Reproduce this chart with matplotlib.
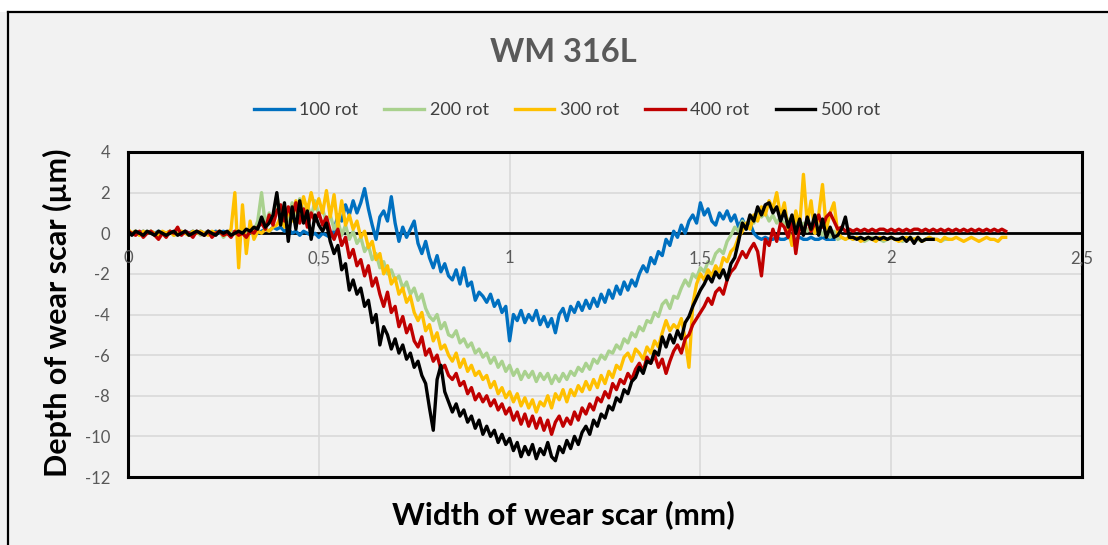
import numpy as np
import matplotlib
matplotlib.use("Agg")
import matplotlib.pyplot as plt
from matplotlib.lines import Line2D
from matplotlib.patches import Rectangle
import matplotlib.transforms as mtransforms

# Profile sampling step along the scar width (mm)
STEP = 0.01

# Depth profiles (µm), one value per STEP starting at 0 mm
depth_100 = [
    0.1, 0.0, 0.1, 0.0, 0.1, 0.0, 0.1, 0.0, 0.1, 0.0,
    0.0, 0.1, 0.0, 0.1, 0.0, 0.1, 0.0, 0.1, 0.0, 0.1,
    0.0, 0.1, 0.0, 0.1, 0.0, 0.1, 0.0, 0.1, 0.0, 0.1,
    0.0, 0.1, 0.0, 0.1, 0.0, 0.1, 0.2, 0.1, 0.3, 0.2,
    0.3, 0.1, 0.2, 0.0, 0.1, -0.1, 0.1, 0.0, -0.1, 0.0,
    -0.2, 0.0, -0.1, -0.2, 0.1, 0.9, 0.6, 1.4, 0.9, 1.6,
    1.0, 1.5, 2.2, 1.2, 0.4, -0.3, 0.8, 1.1, 0.6, 1.8,
    0.5, -0.4, 0.3, -0.2, 0.2, 0.6, -0.5, -1.0, -0.4, -1.2,
    -1.7, -1.1, -1.9, -1.5, -2.1, -2.3, -1.8, -2.5, -1.7, -2.6,
    -2.4, -3.3, -2.9, -3.1, -3.4, -3.0, -3.6, -3.3, -3.9, -3.6,
    -5.3, -4.0, -4.3, -3.8, -4.4, -4.0, -4.3, -3.8, -4.5, -4.1,
    -4.6, -4.2, -4.9, -4.0, -3.7, -4.3, -3.6, -3.9, -3.4, -3.8,
    -3.3, -3.7, -3.2, -3.6, -3.0, -3.4, -2.8, -3.2, -2.6, -3.0,
    -2.4, -2.8, -2.3, -2.6, -2.0, -1.6, -1.9, -1.2, -1.5, -0.9,
    -1.1, -0.3, -0.6, 0.1, -0.2, 0.4, 0.0, 0.6, 0.9, 0.5,
    1.5, 0.9, 1.2, 0.6, 0.4, 1.0, 0.7, 1.1, 0.6, 0.9,
    0.3, 0.7, 0.2, 0.5, 0.0, -0.2, -0.3, -0.2, -0.3, -0.3,
    -0.2, -0.3, -0.3, -0.2, -0.3, -0.3, -0.2, -0.3, -0.3, -0.2,
    -0.3, -0.3, -0.2, -0.3, -0.3, -0.3,
]

depth_200 = [
    0.1, 0.0, 0.1, -0.1, 0.0, 0.1, 0.0, -0.1, 0.1, 0.0,
    0.0, 0.1, -0.1, 0.0, 0.1, 0.0, -0.1, 0.0, 0.1, -0.1,
    0.0, 0.1, -0.1, 0.0, 0.1, -0.2, 0.0, 0.1, 0.0, -0.1,
    0.1, 0.0, 0.3, 0.1, 0.6, 2.0, 0.4, 1.0, 0.5, 1.9,
    0.7, 1.3, 0.6, 1.5, 0.9, 1.7, 1.0, 1.4, 0.8, 1.6,
    0.9, 1.2, 0.5, 0.9, 0.2, 0.6, -0.1, 0.4, -0.3, 0.1,
    -0.5, -0.2, -0.9, -0.6, -1.3, -1.0, -1.7, -1.4, -2.0, -1.8,
    -2.3, -2.1, -2.7, -2.4, -3.0, -2.7, -3.3, -3.0, -3.7, -4.1,
    -4.3, -4.0, -4.7, -4.4, -5.0, -5.1, -4.8, -5.4, -5.2, -5.6,
    -5.4, -5.9, -5.7, -6.1, -5.9, -6.4, -6.1, -6.6, -6.3, -6.8,
    -6.5, -7.0, -6.7, -7.2, -6.8, -7.1, -6.8, -7.3, -6.9, -7.2,
    -6.9, -7.4, -7.0, -7.3, -6.9, -7.2, -6.8, -7.0, -6.6, -6.8,
    -6.4, -6.7, -6.2, -6.4, -6.0, -6.2, -5.8, -5.9, -5.5, -5.7,
    -5.2, -5.4, -4.9, -5.1, -4.6, -4.8, -4.3, -4.4, -3.9, -4.1,
    -3.5, -3.3, -3.7, -3.1, -3.2, -2.7, -2.3, -2.6, -2.0, -2.2,
    -1.7, -1.9, -1.4, -1.5, -1.0, -0.8, -1.0, -0.4, -0.1, 0.3,
    0.1, 0.6, 0.3, 0.8, 0.5, 1.2, 0.8, 1.0, 0.6, 0.9,
    0.5, 0.8, 0.4, 0.7, 0.3, 0.6, 0.2, 0.5, 0.1, 0.4,
    0.0, 0.3, -0.1, 0.2, -0.2, 0.1, -0.3, -0.2, -0.3, -0.2,
    -0.3, -0.2, -0.3, -0.4, -0.3, -0.2, -0.3, -0.3, -0.4, -0.3,
    -0.2, -0.3, -0.3, -0.4, -0.3, -0.2, -0.3, -0.3, -0.4, -0.3,
    -0.2, -0.3, -0.3, -0.4, -0.3, -0.3,
]

depth_300 = [
    0.2, 0.0, 0.1, -0.1, 0.1, 0.0, 0.1, 0.0, -0.1, 0.1,
    0.0, 0.1, -0.1, 0.0, 0.1, 0.0, -0.1, 0.1, 0.0, 0.1,
    0.0, -0.1, 0.1, 0.0, 0.1, -0.1, 0.0, 0.2, 2.0, -1.7,
    1.4, -1.0, 0.6, -0.3, 0.1, 0.0, 0.2, 0.1, 0.3, 0.4,
    0.8, 0.3, 1.2, 0.6, 1.6, 0.9, 1.8, 1.1, 2.0, 1.2,
    1.7, 1.0, 2.1, 0.8, 1.9, 0.3, 1.6, 0.4, 0.9, 0.2,
    0.6, -0.2, 0.1, -0.7, -0.4, -1.3, -1.0, -2.0, -1.6, -2.5,
    -2.2, -3.0, -2.7, -3.4, -3.1, -3.9, -4.3, -3.9, -4.8, -4.5,
    -5.3, -4.9, -5.7, -5.5, -6.0, -6.3, -5.9, -6.6, -6.2, -6.8,
    -6.5, -7.0, -6.8, -7.2, -7.0, -7.6, -7.3, -7.9, -7.6, -8.1,
    -7.8, -8.3, -7.9, -8.5, -8.1, -8.6, -8.2, -8.8, -8.3, -8.5,
    -8.0, -8.6, -7.9, -8.2, -7.7, -8.3, -7.7, -8.0, -7.5, -7.8,
    -7.3, -7.7, -7.2, -7.6, -7.0, -7.4, -6.8, -7.1, -6.5, -6.7,
    -6.1, -5.9, -6.3, -5.7, -5.9, -6.2, -5.6, -5.9, -5.3, -5.6,
    -4.9, -4.3, -4.8, -4.5, -4.7, -4.2, -5.2, -6.6, -3.5, -2.5,
    -2.0, -2.3, -1.8, -2.1, -1.6, -1.9, -1.2, -1.4, -0.9, -0.7,
    -0.2, 0.1, 0.5, 0.2, 0.9, 0.6, 1.3, 0.9, 1.6, 1.2,
    2.0, 0.8, 1.5, 0.2, -0.6, 1.1, 0.3, 2.9, 0.5, 1.6,
    0.0, 0.9, 2.4, 0.2, 1.0, 1.5, 0.0, -0.2, -0.3, -0.2,
    -0.3, -0.2, -0.4, -0.3, -0.2, -0.3, -0.4, -0.2, -0.3, -0.3,
    -0.2, -0.3, -0.4, -0.3, -0.2, -0.3, -0.3, -0.2, -0.4, -0.3,
    -0.2, -0.3, -0.3, -0.4, -0.2, -0.3, -0.3, -0.2, -0.3, -0.4,
    -0.3, -0.2, -0.3, -0.4, -0.3, -0.2, -0.3, -0.3, -0.4, -0.2,
    -0.2,
]

depth_400 = [
    0.1, 0.0, -0.1, 0.1, -0.2, 0.0, 0.1, -0.1, -0.3, 0.0,
    -0.2, 0.1, 0.0, 0.3, -0.1, 0.1, 0.0, -0.2, 0.1, 0.0,
    -0.1, 0.1, -0.2, 0.0, 0.1, -0.1, 0.0, -0.2, 0.1, -0.1,
    0.0, -0.2, 0.1, 0.0, 0.3, 0.5, 0.2, 0.9, 0.4, 1.1,
    1.4, 0.6, 1.3, 0.8, 1.5, 0.5, 1.2, 0.3, 1.0, 0.6,
    1.0, 0.4, 0.8, 0.1, -0.3, 0.2, -0.6, -0.2, -1.2, -0.8,
    -1.6, -1.3, -2.1, -1.6, -2.6, -2.2, -3.0, -3.6, -2.9, -3.9,
    -3.6, -4.6, -4.1, -4.9, -4.5, -5.3, -5.6, -5.1, -6.0, -5.7,
    -6.3, -6.0, -6.7, -6.5, -7.0, -7.2, -6.9, -7.5, -7.3, -7.9,
    -7.6, -8.2, -7.9, -8.3, -8.0, -8.5, -8.2, -8.7, -8.4, -8.9,
    -8.6, -9.2, -8.8, -9.4, -8.9, -9.5, -9.0, -9.6, -9.1, -9.7,
    -9.2, -9.9, -9.3, -9.0, -9.5, -9.1, -9.4, -8.8, -9.2, -8.6,
    -8.9, -8.4, -8.7, -8.1, -8.3, -7.8, -8.1, -7.4, -7.7, -7.2,
    -7.4, -6.9, -7.2, -6.7, -6.4, -6.8, -6.1, -6.4, -6.0, -6.6,
    -6.2, -6.9, -6.3, -5.8, -5.5, -5.9, -5.2, -5.0, -4.5, -4.2,
    -3.9, -3.6, -3.2, -3.5, -2.9, -2.7, -3.0, -2.3, -1.9, -1.7,
    -1.3, -0.9, -1.2, -0.8, -0.5, -0.9, -2.1, -0.3, -0.6, 0.2,
    -0.4, 0.5, 0.3, -0.2, 0.6, -1.0, 0.4, 0.0, 0.7, 0.1,
    0.5, 0.9, 0.3, 0.8, 1.0, 0.6, 0.2, 0.3, 0.1, 0.2,
    0.1, 0.2, 0.1, 0.2, 0.1, 0.2, 0.1, 0.2, 0.2, 0.1,
    0.2, 0.1, 0.2, 0.1, 0.2, 0.1, 0.2, 0.2, 0.1, 0.2,
    0.1, 0.2, 0.1, 0.2, 0.1, 0.2, 0.1, 0.2, 0.1, 0.2,
    0.1, 0.2, 0.1, 0.2, 0.1, 0.2, 0.1, 0.2, 0.1, 0.2,
    0.1,
]

depth_500 = [
    0.1, -0.1, 0.1, 0.0, -0.1, 0.1, 0.0, -0.1, 0.1, 0.0,
    -0.1, 0.0, 0.1, -0.1, 0.0, 0.1, -0.1, 0.0, 0.1, 0.0,
    -0.1, 0.1, 0.0, -0.1, 0.1, 0.0, 0.1, -0.1, 0.0, 0.1,
    0.0, 0.2, 0.1, 0.3, 0.2, 0.8, 0.3, 0.5, 0.9, 2.0,
    0.4, 1.5, -0.4, 1.3, 0.2, 1.6, 0.5, 1.1, -0.3, 0.9,
    0.4, 0.1, 0.5, -0.4, -1.0, -0.6, -1.8, -1.5, -2.8, -2.3,
    -3.0, -2.7, -3.6, -3.3, -4.4, -4.0, -5.5, -4.6, -5.0, -5.7,
    -5.2, -5.9, -5.5, -6.2, -5.9, -6.6, -6.3, -7.0, -7.4, -8.6,
    -9.7, -7.2, -6.5, -7.8, -8.3, -8.8, -8.4, -9.0, -8.7, -9.3,
    -9.0, -9.6, -9.2, -9.9, -9.5, -10.0, -9.7, -10.3, -9.9, -10.4,
    -10.1, -10.7, -10.3, -11.0, -10.5, -10.9, -10.4, -11.1, -10.6, -10.9,
    -10.3, -11.0, -11.2, -10.5, -10.8, -10.2, -10.6, -10.0, -10.4, -9.8,
    -9.5, -9.9, -9.2, -9.5, -8.9, -9.1, -8.5, -8.7, -8.1, -8.3,
    -7.7, -7.9, -7.3, -7.1, -6.6, -6.9, -6.3, -6.4, -5.8, -6.0,
    -5.1, -5.6, -5.0, -5.4, -4.8, -5.2, -4.4, -4.1, -3.6, -3.2,
    -2.8, -2.5, -2.1, -2.4, -1.9, -2.2, -1.8, -2.3, -1.5, -1.2,
    -0.4, 0.5, 0.2, 0.9, 0.6, 1.3, 0.9, 1.4, 1.5, 1.0,
    1.3, 0.6, 1.1, 0.3, 0.9, 0.0, 0.7, -0.1, 0.8, 0.2,
    0.9, -0.1, 0.7, -0.2, 0.3, -0.2, -0.1, 0.2, 0.8, -0.2,
    -0.2, -0.3, -0.2, -0.3, -0.2, -0.3, -0.2, -0.3, -0.2, -0.3,
    -0.2, -0.3, -0.3, -0.2, -0.4, -0.2, -0.5, -0.2, -0.4, -0.3,
    -0.3, -0.3,
]

series_labels = ["100 rot", "200 rot", "300 rot", "400 rot", "500 rot"]
series_colors = ["#0070C0", "#A9D18E", "#FFC000", "#C00000", "#000000"]
series_depths = [depth_100, depth_200, depth_300, depth_400, depth_500]

x_ticks = [0, 0.5, 1, 1.5, 2, 2.5]
x_tick_labels = ["0", "0,5", "1", "1,5", "2", "2,5"]
y_ticks = [4, 2, 0, -2, -4, -6, -8, -10, -12]

title_text = "WM 316L"
x_label = "Width of wear scar (mm)"
y_label = "Depth of wear scar (\u00b5m)"

W, H = 1108, 545
BG = "#F2F2F2"
TICK_GRAY = "#595959"

plt.rcParams["font.family"] = ["Lato", "DejaVu Sans"]
plt.rcParams["axes.unicode_minus"] = False

fig = plt.figure(figsize=(W / 100, H / 100), dpi=100)
fig.patch.set_facecolor("white")

# chart area background with its frame (top and left edges visible)
fig.add_artist(Rectangle((0, 0), 1, 1 - 12 / H, transform=fig.transFigure,
                         facecolor=BG, edgecolor="none", zorder=0))
fig.add_artist(Line2D([8 / W, 1], [1 - 12 / H, 1 - 12 / H], transform=fig.transFigure,
                      color="black", lw=1.6, zorder=1))
fig.add_artist(Line2D([8 / W, 8 / W], [0, 1 - 12 / H], transform=fig.transFigure,
                      color="black", lw=1.6, zorder=1))

ax = fig.add_axes([128 / W, 1 - 477 / H, (1082 - 128) / W, (477 - 152) / H])
ax.set_facecolor(BG)

for depth, color, label in zip(series_depths, series_colors, series_labels):
    xs = np.arange(len(depth)) * STEP
    ax.plot(xs, depth, color=color, lw=2.4, label=label, solid_joinstyle="round", zorder=3)

ax.set_xlim(0, 2.5)
ax.set_ylim(-12, 4)
ax.set_xticks(x_ticks)
ax.set_yticks(y_ticks)
ax.set_xticklabels([])
ax.tick_params(axis="both", length=0)
ax.tick_params(axis="y", labelsize=12, labelcolor=TICK_GRAY, pad=13)
ax.grid(True, color="#D9D9D9", lw=1.2, zorder=1)
ax.set_axisbelow(True)
ax.axhline(0, color="black", lw=2.0, zorder=2)

for sp in ax.spines.values():
    sp.set_linewidth(2.2)
    sp.set_color("black")
    sp.set_zorder(4)

# category labels sit just under the zero line
lab_off = mtransforms.offset_copy(ax.transData, fig=fig, x=0, y=-18, units="points")
for xv, txt in zip(x_ticks, x_tick_labels):
    ax.text(xv, 0, txt, transform=lab_off, ha="center", va="center",
            fontsize=12, color=TICK_GRAY, zorder=5, clip_on=False)

fig.text(563 / W, 1 - 52 / H, title_text, ha="center", va="center",
         fontsize=23.5, fontweight="bold", color=TICK_GRAY)

fig.text(563 / W, 1 - 515 / H, x_label, ha="center", va="center",
         fontsize=22.5, fontweight="bold", color="black")
fig.text(57 / W, 1 - 313 / H, y_label, ha="center", va="center", rotation=90,
         fontsize=22, fontweight="bold", color="black")

handles = [Line2D([0], [0], color=c, lw=2.4) for c in series_colors]
fig.legend(handles, series_labels, loc="center", bbox_to_anchor=(567 / W, 1 - 110 / H),
           ncol=5, frameon=False, fontsize=13, labelcolor="#404040",
           handlelength=2.2, handletextpad=0.3, columnspacing=1.45)

fig.savefig("out.png", dpi=100, facecolor=fig.get_facecolor())
